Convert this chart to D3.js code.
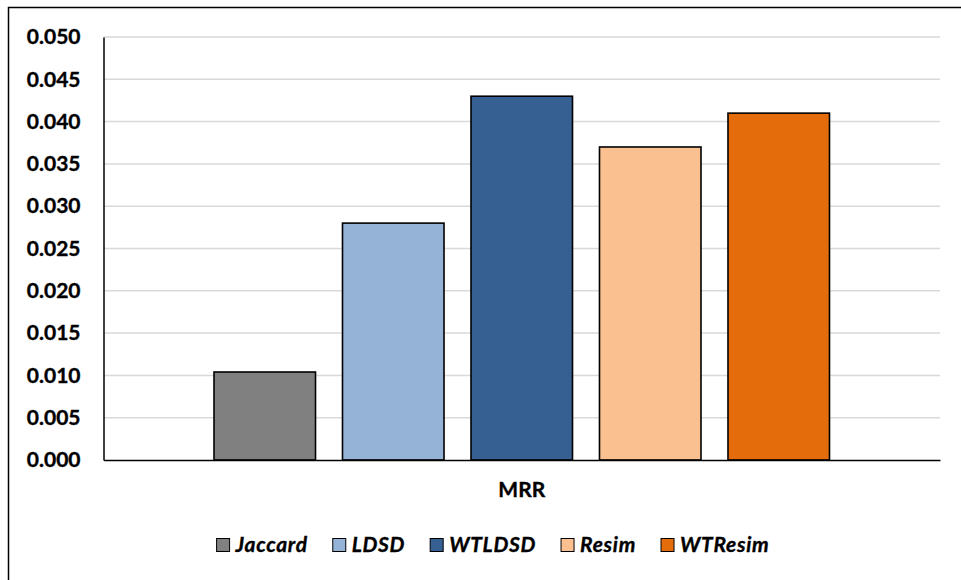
<!DOCTYPE html>
<html><head><meta charset="utf-8">
<script src="https://cdn.jsdelivr.net/npm/d3@7"></script>
<style>html,body{margin:0;padding:0;background:#fff;}svg{display:block;}</style>
</head><body>
<svg id="chart" width="961" height="580"></svg>
<script>
const categories = ["MRR"];
const seriesNames = ["Jaccard", "LDSD", "WTLDSD", "Resim", "WTResim"];
const seriesValues = [0.0104, 0.028, 0.043, 0.037, 0.041];
const seriesColors = ["#808080", "#95b3d7", "#366092", "#fac090", "#e46c0a"];
const yTicks = [0, 0.005, 0.010, 0.015, 0.020, 0.025, 0.030, 0.035, 0.040, 0.045, 0.050];

const svg = d3.select("#chart");
const font = "Lato, 'Open Sans', sans-serif";
const fs = 21;
const m = {left: 103.5, right: 940, top: 37, bottom: 460};

svg.append("rect").attr("x", 8.5).attr("y", 7.5).attr("width", 1000).attr("height", 1000)
  .attr("fill", "#fff").attr("stroke", "#000").attr("stroke-width", 1.5);

const y = d3.scaleLinear().domain([0, 0.05]).range([m.bottom, m.top]);
const x0 = d3.scaleBand().domain(categories).range([m.left, m.right]).paddingInner(0).paddingOuter(0.151);
const x1 = d3.scaleBand().domain(seriesNames).range([0, x0.bandwidth()]).paddingInner(0.21).paddingOuter(0.105);

function styleText(sel, italic) {
  sel.attr("font-family", font).attr("font-weight", "bold")
    .attr("font-style", italic ? "italic" : "normal")
    .attr("font-size", fs).attr("fill", "#000")
    .attr("stroke", "#000").attr("stroke-width", 0.35);
}

// gridlines
svg.append("g").selectAll("line").data(yTicks.filter(d => d > 0)).join("line")
  .attr("x1", m.left).attr("x2", m.right)
  .attr("y1", d => y(d)).attr("y2", d => y(d))
  .attr("stroke", "#d9d9d9").attr("stroke-width", 1.5);

// y axis
const yAxis = svg.append("g").attr("transform", `translate(${m.left},0)`)
  .call(d3.axisLeft(y).tickValues(yTicks).tickFormat(d3.format(".3f")).tickSize(0).tickPadding(23));
yAxis.select(".domain").attr("stroke", "#000").attr("stroke-width", 1.5);
styleText(yAxis.selectAll("text"), false);

// bars
const g = svg.append("g");
categories.forEach(cat => {
  g.selectAll(null).data(seriesNames).join("rect")
    .attr("x", d => x0(cat) + x1(d))
    .attr("width", x1.bandwidth())
    .attr("y", (d, i) => y(seriesValues[i]))
    .attr("height", (d, i) => y(0) - y(seriesValues[i]))
    .attr("fill", (d, i) => seriesColors[i])
    .attr("stroke", "#000").attr("stroke-width", 1.6);
});

// x axis
const xAxis = svg.append("g").attr("transform", `translate(0,${m.bottom})`)
  .call(d3.axisBottom(x0).tickSize(0).tickPadding(22));
xAxis.select(".domain").attr("stroke", "#000").attr("stroke-width", 1.5);
styleText(xAxis.selectAll("text"), false);

// legend
const legend = svg.append("g");
const items = legend.selectAll("g").data(seriesNames).join("g");
items.append("rect").attr("width", 13).attr("height", 13).attr("y", -6.5)
  .attr("fill", (d, i) => seriesColors[i]).attr("stroke", "#000").attr("stroke-width", 1);
styleText(items.append("text").attr("x", 19).attr("dy", "0.35em").attr("letter-spacing", 0.7).text(d => d), true);
let cx = 0;
const gap = 25;
items.each(function() {
  const w = 19 + d3.select(this).select("text").node().getComputedTextLength();
  d3.select(this).attr("transform", `translate(${cx},0)`);
  cx += w + gap;
});
const total = cx - gap;
legend.attr("transform", `translate(${493 - total / 2},545)`);
</script>
</body></html>
